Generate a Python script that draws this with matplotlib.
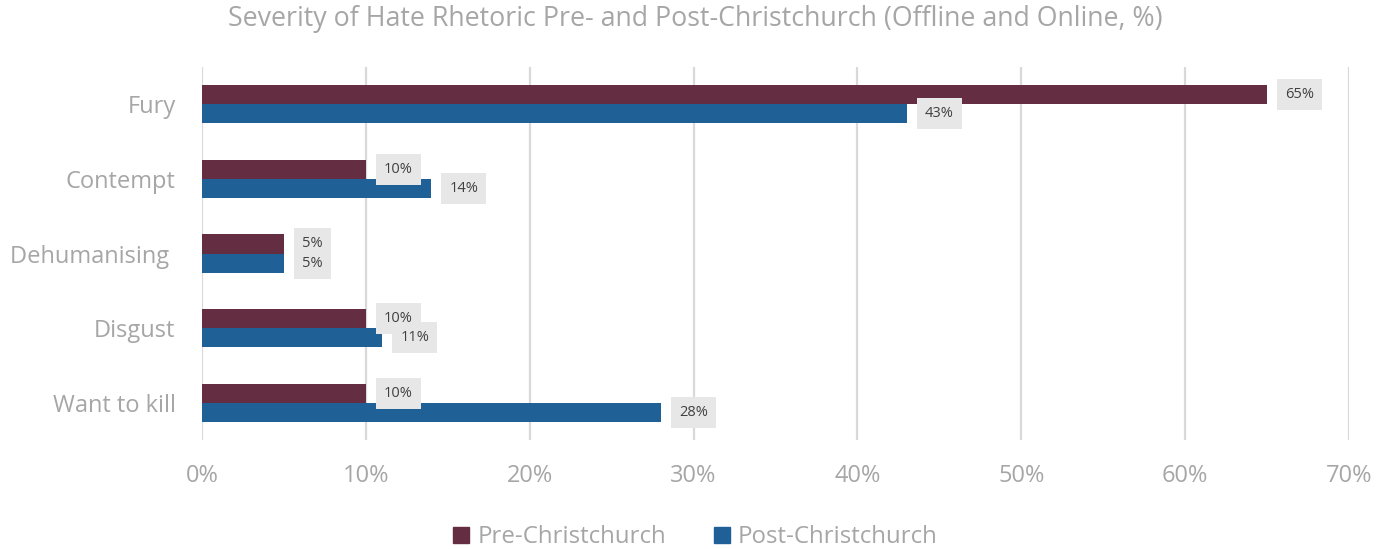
import numpy as np
import matplotlib
matplotlib.use("Agg")
import matplotlib.pyplot as plt
from matplotlib.patches import Patch

categories = ["Fury", "Contempt", "Dehumanising ", "Disgust", "Want to kill"]
pre_vals = [65, 10, 5, 10, 10]
post_vals = [43, 14, 5, 11, 28]
series_names = ["Pre-Christchurch", "Post-Christchurch"]

PRE_COLOR = "#652d42"
POST_COLOR = "#1f6096"
GRID_COLOR = "#d9d9d9"
TEXT_GRAY = "#a6a6a6"

plt.rcParams['font.family'] = ['Open Sans', 'DejaVu Sans']

fig = plt.figure(figsize=(13.91, 5.49), dpi=100)
ax = fig.add_axes([0.1452, 0.1985, 0.8246, 0.6795])

y = np.arange(len(categories))
h = 0.257
bars_pre = ax.barh(y - h / 2, pre_vals, height=h, color=PRE_COLOR, zorder=3)
bars_post = ax.barh(y + h / 2, post_vals, height=h, color=POST_COLOR, zorder=3)

for bars, vals in ((bars_pre, pre_vals), (bars_post, post_vals)):
    for b, v in zip(bars, vals):
        ax.annotate(f"{v}%", xy=(b.get_width(), b.get_y() + b.get_height() / 2),
                    xytext=(13, 0), textcoords="offset points",
                    ha="left", va="center", fontsize=10.5, color="#404040",
                    bbox=dict(boxstyle="square,pad=0.55", fc="#e7e7e7", ec="none"),
                    zorder=4)

ax.set_xlim(0, 70)
ax.set_ylim(len(categories) - 0.5, -0.5)
ax.set_xticks(np.arange(0, 71, 10))
ax.set_xticklabels([f"{t}%" for t in range(0, 71, 10)])
ax.set_yticks(y)
ax.set_yticklabels(categories)
ax.tick_params(axis="both", length=0, labelsize=17, colors=TEXT_GRAY)
ax.tick_params(axis="x", pad=17)
ax.tick_params(axis="y", pad=19)
ax.grid(axis="x", color=GRID_COLOR, linewidth=1.6, zorder=0)
for s in ax.spines.values():
    s.set_visible(False)

fig.suptitle("Severity of Hate Rhetoric Pre- and Post-Christchurch (Offline and Online, %)",
             x=0.5, y=0.99, fontsize=19.3, color=TEXT_GRAY, va="top")

handles = [Patch(color=PRE_COLOR), Patch(color=POST_COLOR)]
fig.legend(handles, series_names, loc="lower center", bbox_to_anchor=(0.5, -0.04),
           ncol=2, frameon=False, fontsize=17.3, labelcolor=TEXT_GRAY,
           handlelength=0.65, handleheight=0.65, handletextpad=0.35, columnspacing=2.0)

fig.savefig("out.png", dpi=100)
